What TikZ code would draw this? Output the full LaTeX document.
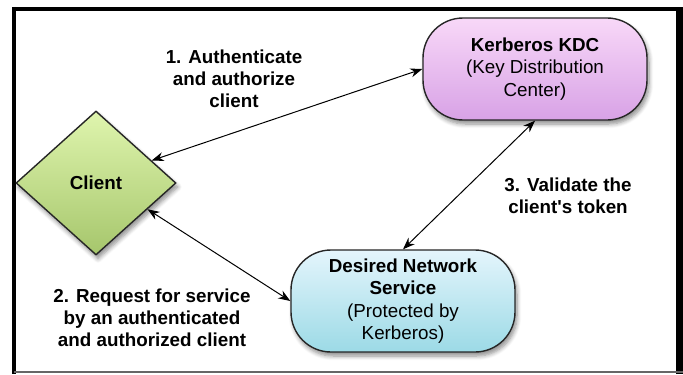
\documentclass[tikz,border=0pt]{standalone}
\usepackage{fontspec}
\setmainfont{Liberation Sans}
\usetikzlibrary{shapes.geometric,arrows.meta,positioning,shadows.blur}

\definecolor{kdctop}{HTML}{F8D8F8}
\definecolor{kdcbot}{HTML}{D8A2E6}
\definecolor{svctop}{HTML}{E4F5FC}
\definecolor{svcbot}{HTML}{9CDAE6}
\definecolor{clitop}{HTML}{DFF5AE}
\definecolor{clibot}{HTML}{A6C66C}

\begin{document}
\begin{tikzpicture}[x=0.5pt, y=-0.5pt,
  font=\fontsize{9.4}{11.2}\selectfont,
  shp/.style  = {draw=black!85, line width=0.7pt, align=center,
                 blur shadow={shadow xshift=1pt, shadow yshift=-2pt,
                              shadow blur steps=6, shadow opacity=45}},
  pill/.style = {shp, rectangle, rounded corners=20pt,
                 minimum width=112pt, minimum height=51pt, inner sep=2pt},
  kdc/.style  = {pill, top color=kdctop, bottom color=kdcbot},
  svc/.style  = {pill, top color=svctop, bottom color=svcbot},
  cli/.style  = {shp, diamond, aspect=1.1, minimum width=80pt,
                 minimum height=72pt, inner sep=0pt,
                 top color=clitop, bottom color=clibot},
  lab/.style  = {align=center, font=\fontsize{9.4}{11}\selectfont\bfseries},
  arr/.style  = {{Stealth[length=6pt,width=4.5pt]}-{Stealth[length=6pt,width=4.5pt]},
                 line width=0.5pt}
]
\useasboundingbox (0,0) rectangle (683,374);

% frame
\fill[black] (676,7) rectangle (683,374);
\draw[black, line width=2pt] (12,9) -- (683,9);
\draw[black, line width=2pt] (14,7) -- (14,374);
\draw[black!60, line width=1pt] (14,372) -- (683,372);

% nodes
\node[cli] (client) at (96,183) {\textbf{Client}};
\node[kdc] (kdc)    at (535,69)
      {\textbf{Kerberos KDC}\\(Key Distribution\\Center)};
\node[svc] (svc)    at (403,301)
      {\textbf{Desired Network}\\\textbf{Service}\\(Protected by\\Kerberos)};

% labels
\node[lab] (lab1) at (234,79)  {1. Authenticate\\and authorize\\client};
\node[lab] (lab2) at (152,318) {2. Request for service\\by an authenticated\\and authorized client};
\node[lab] (lab3) at (568,196) {3. Validate the\\client\textquotesingle s token};

% arrows
\draw[arr] (client.22)  -- (kdc.west);
\draw[arr] (client.-27) -- (svc.west);
\draw[arr] (kdc.south)  -- (svc.north);

\end{tikzpicture}
\end{document}
